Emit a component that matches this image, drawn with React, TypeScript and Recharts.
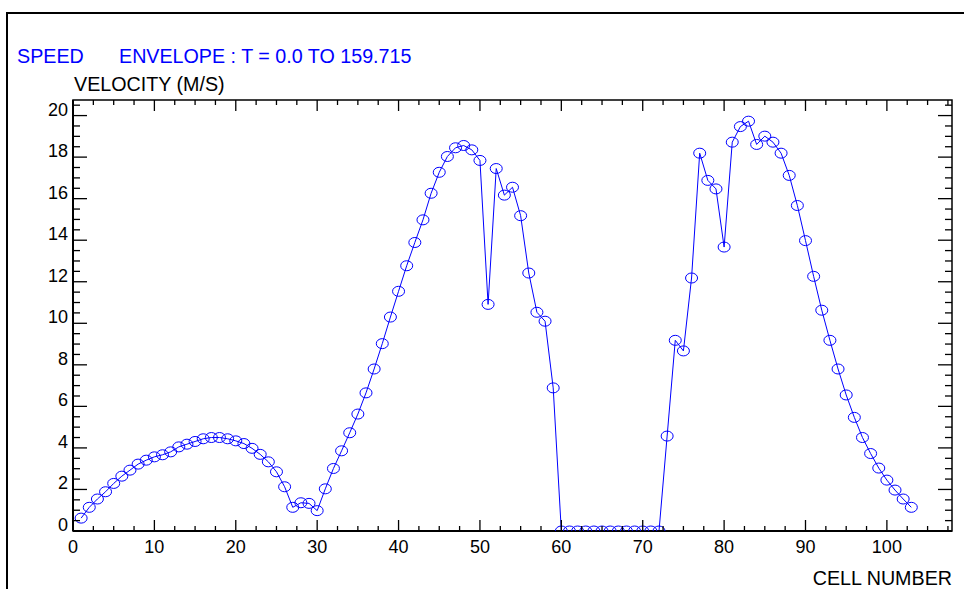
import React from 'react';
import { LineChart, Line, XAxis, YAxis, ReferenceArea } from 'recharts';

// Speed envelope per cell (m/s), cells 1..103
const velocity: number[] = [
  0.62, 1.14, 1.54, 1.89, 2.29, 2.64, 2.93, 3.22, 3.41, 3.57,
  3.67, 3.81, 4.05, 4.18, 4.31, 4.44, 4.50, 4.50, 4.44, 4.34,
  4.21, 3.98, 3.69, 3.33, 2.85, 2.13, 1.14, 1.36, 1.33, 0.98,
  2.03, 3.01, 3.86, 4.73, 5.63, 6.65, 7.80, 9.02, 10.30, 11.54,
  12.77, 13.89, 14.98, 16.26, 17.27, 18.03, 18.45, 18.56, 18.35, 17.84,
  10.91, 17.45, 16.17, 16.55, 15.18, 12.42, 10.53, 10.10, 6.89, 0,
  0, 0, 0, 0, 0, 0, 0, 0, 0, 0,
  0, 0, 4.57, 9.18, 8.67, 12.18, 18.19, 16.88, 16.47, 13.67,
  18.72, 19.47, 19.73, 18.61, 19.01, 18.72, 18.19, 17.12, 15.67, 13.98,
  12.26, 10.63, 9.18, 7.80, 6.55, 5.47, 4.50, 3.73, 3.03, 2.45,
  1.97, 1.54, 1.14,
];
const cells: number[] = velocity.map((_, i) => i + 1);

const xDomain: [number, number] = [0, 108];
const yDomain: [number, number] = [0, 20.75];
const xTicks: number[] = Array.from({ length: 44 }, (_, i) => i * 2.5);
const yTicks: number[] = Array.from({ length: 42 }, (_, i) => i * 0.5);
const xLabelEvery = 10;
const yLabelEvery = 2;

const titleLeft = 'SPEED';
const titleRight = 'ENVELOPE : T = 0.0 TO 159.715';
const yTitle = 'VELOCITY (M/S)';
const xTitle = 'CELL NUMBER';

const data = cells.map((c, i) => ({ cell: c, v: velocity[i] }));

const W = 964;
const H = 589;
const M = { top: 100, right: 12, bottom: 57, left: 72 };
const PLOT_TOP = M.top;
const PLOT_RIGHT = W - M.right;
const BLUE = '#0000ff';
const FONT = '"Liberation Sans", Arial, Helvetica, sans-serif';

const isMult = (v: number, m: number) => Math.abs(v / m - Math.round(v / m)) < 1e-6;

const renderXTick = (props: any) => {
  const { x, y, payload, index } = props;
  const v = payload.value as number;
  const major = isMult(v, xLabelEvery);
  const len = major ? 11 : 5;
  return (
    <g key={`xt-${index}`}>
      <line x1={x} x2={x} y1={y} y2={y - len} stroke="#000" strokeWidth={1.3} />
      <line x1={x} x2={x} y1={PLOT_TOP} y2={PLOT_TOP + len} stroke="#000" strokeWidth={1.3} />
      {major && (
        <text x={x} y={y + 22} textAnchor="middle" fontSize={18} fontFamily={FONT} fill="#000">
          {v}
        </text>
      )}
    </g>
  );
};

const renderYTick = (props: any) => {
  const { x, y, payload, index } = props;
  const v = payload.value as number;
  const major = isMult(v, yLabelEvery);
  const len = major ? 14 : 7;
  return (
    <g key={`yt-${index}`}>
      <line x1={x} x2={x + len} y1={y} y2={y} stroke="#000" strokeWidth={1.3} />
      <line x1={PLOT_RIGHT} x2={PLOT_RIGHT - len} y1={y} y2={y} stroke="#000" strokeWidth={1.3} />
      {major && (
        <text x={x - 5} y={y} textAnchor="end" fontSize={18} fontFamily={FONT} fill="#000">
          {v}
        </text>
      )}
    </g>
  );
};

const renderDot = (p: any) => {
  if (p.cx == null || p.cy == null) return <g key={`d-${p.index}`} />;
  return (
    <ellipse key={`d-${p.index}`} cx={p.cx} cy={p.cy} rx={6} ry={5} stroke={BLUE} strokeWidth={1} fill="none" />
  );
};

export default function App() {
  return (
    <div style={{ position: 'absolute', left: 0, top: 0, width: W, height: H, background: '#fff' }}>
      <LineChart width={W} height={H} data={data} margin={M}>
        <ReferenceArea x1={xDomain[0]} x2={xDomain[1]} y1={yDomain[0]} y2={yDomain[1]} stroke="#000" strokeWidth={1.5} fill="none" fillOpacity={0} ifOverflow="visible" />
        <XAxis
          dataKey="cell"
          type="number"
          domain={xDomain}
          ticks={xTicks}
          interval={0}
          height={1}
          tickSize={0}
          tickMargin={0}
          tickLine={false}
          axisLine={{ stroke: '#000', strokeWidth: 2 }}
          tick={renderXTick}
          allowDataOverflow
        />
        <YAxis
          type="number"
          domain={yDomain}
          ticks={yTicks}
          interval={0}
          width={1}
          tickSize={0}
          tickMargin={0}
          tickLine={false}
          axisLine={{ stroke: '#000', strokeWidth: 2 }}
          tick={renderYTick}
          allowDataOverflow
        />
        <Line
          type="linear"
          dataKey="v"
          stroke={BLUE}
          strokeWidth={1}
          dot={renderDot}
          activeDot={false}
          isAnimationActive={false}
        />
      </LineChart>
      <svg width={W} height={H} style={{ position: 'absolute', left: 0, top: 0, pointerEvents: 'none' }}>
        <rect x={7} y={13} width={2000} height={2000} stroke="#000" strokeWidth={2} fill="none" />
        <text x={17} y={63} fontSize={19.7} fontFamily={FONT} fill={BLUE}>{titleLeft}</text>
        <text x={119} y={63} fontSize={19.7} fontFamily={FONT} fill={BLUE}>{titleRight}</text>
        <text x={74} y={91} fontSize={19.7} fontFamily={FONT} fill="#000">{yTitle}</text>
        <text x={952} y={585} fontSize={19.7} fontFamily={FONT} fill="#000" textAnchor="end">{xTitle}</text>
      </svg>
    </div>
  );
}
